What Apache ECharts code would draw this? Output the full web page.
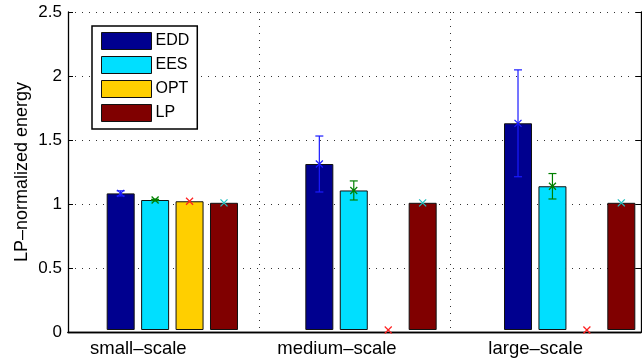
<!DOCTYPE html>
<html>
<head>
<meta charset="utf-8">
<script src="https://cdn.jsdelivr.net/npm/echarts@6/dist/echarts.min.js"></script>
<style>
  html, body { margin: 0; padding: 0; background: #fff; overflow: hidden; }
  /* chart is a bit wider than the window: the bar groups in the source drift right */
  #chart { width: 669px; height: 358px; }
</style>
</head>
<body>
<div id="chart"></div>
<script>
// data
const categories = ["small–scale", "medium–scale", "large–scale"];
const methods = ["EDD", "EES", "OPT", "LP"];
const eddValues = [1.074, 1.305, 1.625];
const eddErrors = [0.02, 0.22, 0.42];
const eesValues = [1.022, 1.097, 1.13];
const eesErrors = [0.005, 0.075, 0.10];
const optValues = [1.012, 0, 0];
const optErrors = [0, 0, 0];
const lpValues = [1, 1, 1];
const lpErrors = [0, 0, 0];
const yTicks = [0, 0.5, 1, 1.5, 2, 2.5];

const barColors = ["#00008f", "#00dfff", "#ffcf00", "#800000"];
const markColors = ["#1a1aff", "#008000", "#ff2020", "#20c0c0"];
const allValues = [eddValues, eesValues, optValues, lpValues];
const allErrors = [eddErrors, eesErrors, optErrors, lpErrors];

const FONT = "'Liberation Sans', Arial, Helvetica, sans-serif";
const BAR_W = 28;
const BAR_GAP = "23%";

const chart = echarts.init(document.getElementById("chart"), null, { renderer: "canvas" });

const dotted = { color: "#333", width: 1, type: [1, 6] };

function errSeries(idx) {
  return {
    name: methods[idx] + " err",
    type: "custom",
    xAxisIndex: 2,
    yAxisIndex: 2,
    z: 10,
    clip: false,
    data: allValues[idx].map((v, i) => [i, v, allErrors[idx][i]]),
    renderItem(params, api) {
      const layout = api.barLayout({ count: 4, barWidth: BAR_W, barGap: BAR_GAP });
      const off = layout[idx].offsetCenter;
      const c = api.coord([api.value(0), api.value(1)]);
      const x = c[0] + off;
      const hi = api.coord([api.value(0), api.value(1) + api.value(2)])[1];
      const lo = api.coord([api.value(0), api.value(1) - api.value(2)])[1];
      const col = markColors[idx];
      const st = { stroke: col, lineWidth: 1.2 };
      const kids = [];
      if (api.value(2) > 0) {
        kids.push({ type: "line", shape: { x1: x, y1: hi, x2: x, y2: lo }, style: st });
        kids.push({ type: "line", shape: { x1: x - 4, y1: hi, x2: x + 4, y2: hi }, style: st });
        kids.push({ type: "line", shape: { x1: x - 4, y1: lo, x2: x + 4, y2: lo }, style: st });
      }
      const s = 3.5;
      kids.push({ type: "line", shape: { x1: x - s, y1: c[1] - s, x2: x + s, y2: c[1] + s }, style: st });
      kids.push({ type: "line", shape: { x1: x - s, y1: c[1] + s, x2: x + s, y2: c[1] - s }, style: st });
      if (idx === 1) {
        kids.push({ type: "circle", shape: { cx: x, cy: c[1], r: 1.5 }, style: { fill: col } });
      }
      return { type: "group", children: kids };
    }
  };
}

// zero means no bar drawn (only the marker at 0 remains)
const barSeries = methods.map((m, idx) => ({
  name: m,
  type: "bar",
  xAxisIndex: 2,
  yAxisIndex: 2,
  barWidth: BAR_W,
  barGap: BAR_GAP,
  data: allValues[idx].map(v => (v === 0 ? "-" : v)),
  itemStyle: { color: barColors[idx], borderColor: "#111", borderWidth: 1 },
  emphasis: { disabled: true }
}));

const option = {
  animation: false,
  backgroundColor: "#fff",
  textStyle: { fontFamily: FONT },
  grid: [
    { left: 68, right: 28, top: 12, bottom: 26 },
    { left: 73, right: 0, top: 12, bottom: 26 }
  ],
  legend: {
    data: methods,
    orient: "vertical",
    left: 92,
    top: 26,
    icon: "rect",
    itemWidth: 50,
    itemHeight: 17,
    itemGap: 6,
    padding: [6, 8, 7, 9],
    borderColor: "#000",
    borderWidth: 1.5,
    backgroundColor: "#fff",
    itemStyle: { borderColor: "#111", borderWidth: 1 },
    textStyle: { fontFamily: FONT, fontSize: 16, color: "#000", padding: [0, 0, 0, -1] },
    selectedMode: false
  },
  xAxis: [
    {
      type: "category", gridIndex: 0, data: categories, position: "bottom",
      axisLine: { lineStyle: { color: "#000", width: 1.3 } },
      axisTick: { inside: true, length: 4, lineStyle: { color: "#000" } },
      axisLabel: { show: false },
      splitLine: { show: true, lineStyle: dotted }
    },
    {
      type: "category", gridIndex: 0, data: categories, position: "top",
      axisLine: { lineStyle: { color: "#000", width: 1.3 } },
      axisTick: { inside: true, length: 4, lineStyle: { color: "#000" } },
      axisLabel: { show: false },
      splitLine: { show: false }
    },
    {
      type: "category", gridIndex: 1, data: categories,
      axisLine: { show: false },
      axisTick: { show: false },
      axisLabel: {
        color: "#000", fontSize: 18.5, fontFamily: FONT, margin: 9,
        padding: [0, 68, 0, 0]
      },
      splitLine: { show: false }
    }
  ],
  yAxis: [
    {
      type: "value", gridIndex: 0, min: 0, max: 2.5, interval: 0.5, position: "left",
      name: "LP–normalized energy",
      nameLocation: "middle",
      nameGap: 37,
      nameMoveOverlap: false,
      nameTextStyle: { color: "#000", fontSize: 18, fontFamily: FONT },
      axisLine: { show: true, lineStyle: { color: "#000", width: 1.3 } },
      axisTick: { show: true, inside: true, length: 5, lineStyle: { color: "#000" } },
      axisLabel: {
        color: "#000", fontSize: 17, fontFamily: FONT, margin: 6,
        formatter: v => (yTicks.indexOf(v) >= 0 ? String(v) : "")
      },
      splitLine: { show: true, lineStyle: dotted }
    },
    {
      type: "value", gridIndex: 0, min: 0, max: 2.5, interval: 0.5, position: "right",
      axisLine: { show: true, lineStyle: { color: "#000", width: 1.3 } },
      axisTick: { show: true, inside: true, length: 5, lineStyle: { color: "#000" } },
      axisLabel: { show: false },
      splitLine: { show: false }
    },
    {
      type: "value", gridIndex: 1, min: 0, max: 2.5, show: false
    }
  ],
  series: [...barSeries, ...methods.map((m, i) => errSeries(i))]
};

chart.setOption(option);
</script>
</body>
</html>
